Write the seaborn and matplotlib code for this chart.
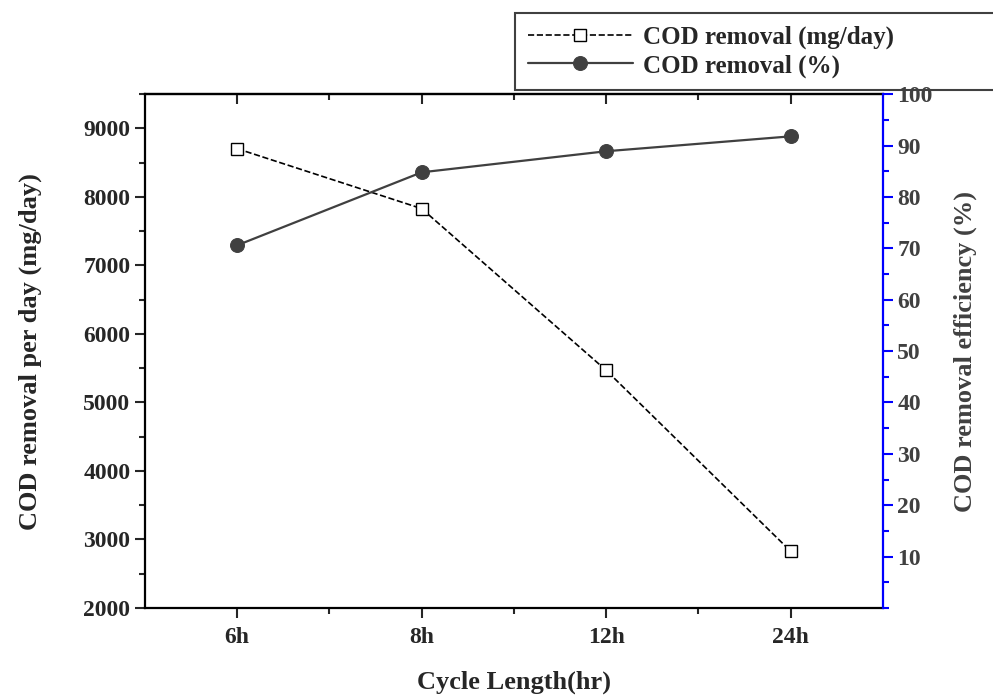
import seaborn as sns
import matplotlib.pyplot as plt
import pandas as pd
from matplotlib.ticker import MultipleLocator, FixedLocator

cycle = ["6h", "8h", "12h", "24h"]
removal_mg = [8705, 7830, 5470, 2830]
removal_pct = [70.6, 84.8, 88.9, 91.8]

df = pd.DataFrame({"cycle": cycle, "mg": removal_mg, "pct": removal_pct})

sns.set_style("ticks")
plt.rcParams["font.family"] = ["Liberation Serif", "DejaVu Serif"]
plt.rcParams["font.weight"] = "bold"

fig = plt.figure(figsize=(9.93, 6.98), dpi=100)
ax = fig.add_axes([0.146, 0.129, 0.743, 0.736])
ax2 = ax.twinx()

sns.lineplot(data=df, x="cycle", y="mg", ax=ax, color="black", linestyle="--",
             linewidth=1.2, marker="s", markersize=8, markerfacecolor="white",
             markeredgecolor="black", markeredgewidth=1.0, sort=False,
             label="COD removal (mg/day)", legend=False)
sns.lineplot(data=df, x="cycle", y="pct", ax=ax2, color="#404040", linestyle="-",
             linewidth=1.6, marker="o", markersize=10, markeredgecolor="#404040",
             sort=False, label="COD removal (%)", legend=False)

ax.set_xlim(-0.5, 3.5)
ax.set_ylim(2000, 9500)
ax2.set_ylim(0, 100)

ax.yaxis.set_major_locator(MultipleLocator(1000))
ax.yaxis.set_minor_locator(MultipleLocator(500))
ax.xaxis.set_minor_locator(FixedLocator([0.5, 1.5, 2.5]))
ax2.yaxis.set_major_locator(FixedLocator(range(10, 101, 10)))
ax2.yaxis.set_minor_locator(MultipleLocator(5))

ax.tick_params(axis="both", which="major", length=7, width=1.5, labelsize=17, direction="out")
ax.tick_params(axis="both", which="minor", length=4, width=1.5, direction="out")
ax.tick_params(axis="x", which="major", pad=7)
ax2.tick_params(axis="y", which="major", length=7, width=1.5, colors="blue",
                labelcolor="#404040", labelsize=17)
ax2.tick_params(axis="y", which="minor", length=4, width=1.5, colors="blue")

# inward ticks on the top spine
top = ax.secondary_xaxis("top")
top.set_xticks(range(len(cycle)))
top.xaxis.set_minor_locator(FixedLocator([0.5, 1.5, 2.5]))
top.tick_params(which="major", direction="in", length=7, width=1.5, labeltop=False)
top.tick_params(which="minor", direction="in", length=4, width=1.5)
top.spines["top"].set_linewidth(1.6)

for s in ["left", "bottom", "top"]:
    ax.spines[s].set_linewidth(1.6)
    ax.spines[s].set_color("black")
ax.spines["right"].set_visible(False)
for s in ["left", "bottom", "top"]:
    ax2.spines[s].set_visible(False)
ax2.spines["right"].set_color("blue")
ax2.spines["right"].set_linewidth(1.6)

ax.set_xlabel("Cycle Length(hr)", fontsize=19, fontweight="bold", labelpad=16)
ax.set_ylabel("COD removal per day (mg/day)", fontsize=19, fontweight="bold", labelpad=30)
ax2.set_ylabel("COD removal efficiency (%)", fontsize=19, fontweight="bold",
               color="#404040", labelpad=15)

h1, l1 = ax.get_legend_handles_labels()
h2, l2 = ax2.get_legend_handles_labels()
leg = ax2.legend(h1 + h2, l1 + l2, loc="upper left", bbox_to_anchor=(0.519, 0.981, 0.6, 0.0),
                 bbox_transform=fig.transFigure, mode="expand", borderaxespad=0,
                 fancybox=False, edgecolor="#404040", framealpha=1,
                 prop={"size": 18, "weight": "bold"}, handlelength=4.2, borderpad=0.5,
                 labelspacing=0.2, handletextpad=0.4)
leg.get_frame().set_linewidth(1.5)
leg.set_zorder(0)

fig.savefig("out.png", dpi=100)
